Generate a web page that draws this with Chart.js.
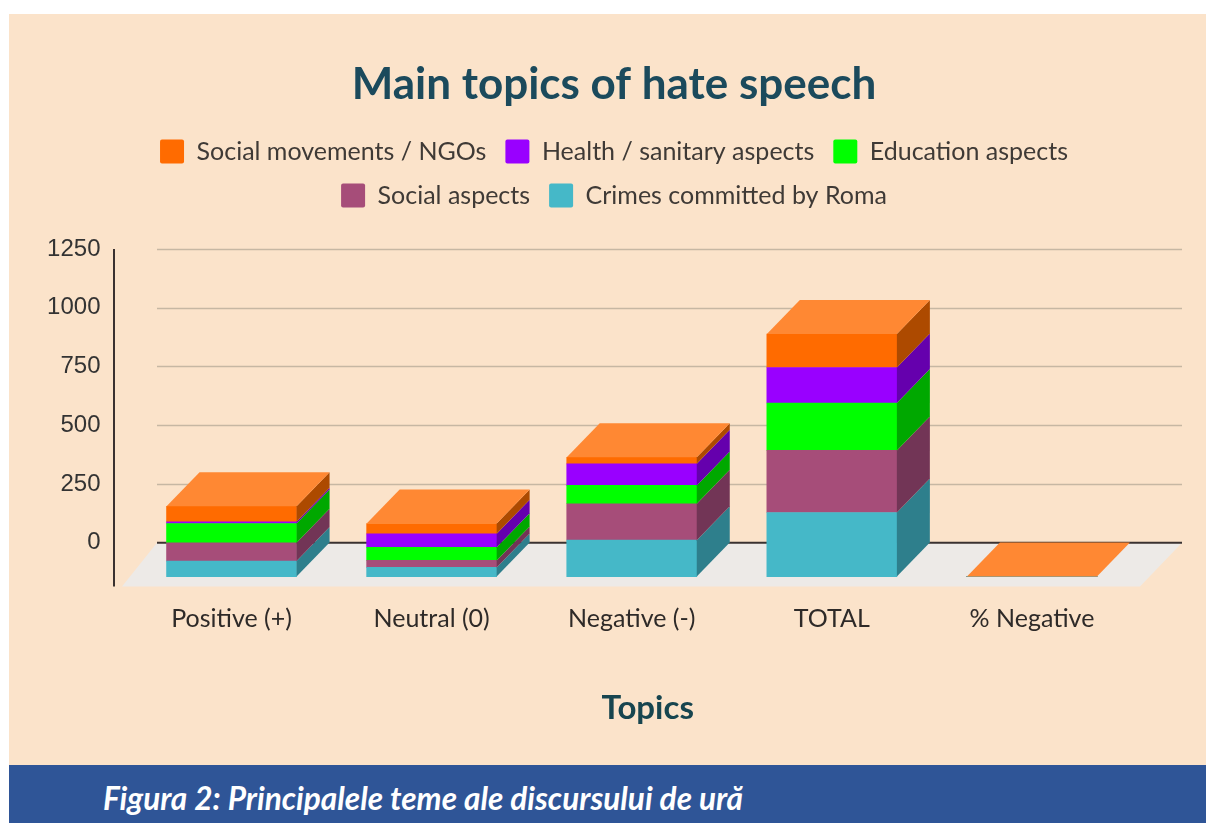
<!DOCTYPE html>
<html>
<head>
<meta charset="utf-8">
<script src="https://cdn.jsdelivr.net/npm/chart.js@4/dist/chart.umd.min.js"></script>
<style>
html,body{margin:0;padding:0;background:#fff;width:1206px;height:823px;overflow:hidden}
#panel{position:absolute;left:9px;top:14px;width:1197px;height:751px;background:#fbe3ca}
#band{position:absolute;left:9px;top:765px;width:1197px;height:58px;background:#2f5597;color:#fff;font:italic bold 31.6px Lato,sans-serif}
#band span{position:absolute;left:94px;top:14px;white-space:nowrap}
#wrap{position:absolute;left:0;top:0;width:1206px;height:823px}
</style>
</head>
<body>
<div id="panel"></div>
<div id="wrap"><canvas id="c" width="1206" height="823"></canvas></div>
<div id="band"><span>Figura 2: Principalele teme ale discursului de ură</span></div>
<script>
const categories = ['Positive (+)', 'Neutral (0)', 'Negative (-)', 'TOTAL', '% Negative'];
const crimes    = [66, 39, 155, 273, 0];
const social    = [78, 30, 155, 264, 0];
const education = [82, 56, 78, 202, 0];
const health    = [7, 57, 92, 151, 0];
const movements = [66, 44, 28, 142, 0];
const yTicks = [0, 250, 500, 750, 1000, 1250];

const PX_PER_UNIT = 0.2354, DX = 33, DY = 34;
const AREA_TOP_EXTRA = 31;
const yMax = 1250 + AREA_TOP_EXTRA / PX_PER_UNIT;
const yMin = -44 / PX_PER_UNIT;
const shift = DY / PX_PER_UNIT;

const sideColors = {
  'Crimes committed by Roma': '#2e7f8c',
  'Social aspects': '#723556',
  'Education aspects': '#00a800',
  'Health / sanitary aspects': '#6500ad',
  'Social movements / NGOs': '#ad4a00'
};
const topColor = '#ff8833';

const backdrop = {
  id: 'backdrop',
  afterLayout(chart) { chart.scales.y.left = 0; },
  beforeDatasetsDraw(chart) {
    const {ctx, scales: {y}} = chart;
    const y0 = y.getPixelForValue(0);
    ctx.save();
    ctx.fillStyle = '#edeae7';
    ctx.beginPath();
    ctx.moveTo(157, y0); ctx.lineTo(1182, y0); ctx.lineTo(1140, y.bottom); ctx.lineTo(122, y.bottom);
    ctx.closePath(); ctx.fill();
    ctx.strokeStyle = '#c6b7a3'; ctx.lineWidth = 1.5;
    yTicks.slice(1).forEach(v => {
      const py = Math.round(y.getPixelForValue(v)) + 0.5;
      ctx.beginPath(); ctx.moveTo(157, py); ctx.lineTo(1182, py); ctx.stroke();
    });
    ctx.strokeStyle = '#3a3230'; ctx.lineWidth = 2;
    ctx.beginPath(); ctx.moveTo(157, y0); ctx.lineTo(1182, y0); ctx.stroke();
    ctx.beginPath(); ctx.moveTo(114, y.getPixelForValue(1250)); ctx.lineTo(114, y.bottom); ctx.stroke();
    ctx.restore();
  }
};
const depth = {
  id: 'depth',
  afterDatasetsDraw(chart) {
    const {ctx} = chart;
    const n = chart.data.datasets.length;
    ctx.save();
    chart.data.datasets.forEach((ds, i) => {
      chart.getDatasetMeta(i).data.forEach(bar => {
        const r = bar.x + bar.width / 2, l = bar.x - bar.width / 2;
        ctx.fillStyle = sideColors[ds.label];
        ctx.beginPath();
        ctx.moveTo(r, bar.y); ctx.lineTo(r + DX, bar.y - DY);
        ctx.lineTo(r + DX, bar.base - DY); ctx.lineTo(r, bar.base);
        ctx.closePath(); ctx.fill();
        if (i === n - 1) {
          ctx.fillStyle = topColor;
          ctx.beginPath();
          ctx.moveTo(l, bar.y); ctx.lineTo(l + DX, bar.y - DY);
          ctx.lineTo(r + DX, bar.y - DY); ctx.lineTo(r, bar.y);
          ctx.closePath(); ctx.fill();
        }
      });
    });
    ctx.restore();
  }
};

const bar = (label, data, color) => ({label, data, backgroundColor: color, yAxisID: 'y2', barThickness: 130, borderWidth: 0, stack: 's'});

new Chart(document.getElementById('c'), {
  type: 'bar',
  data: {
    labels: categories,
    datasets: [
      bar('Crimes committed by Roma', crimes, '#45b8c8'),
      bar('Social aspects', social, '#a64d79'),
      bar('Education aspects', education, '#00ff00'),
      bar('Health / sanitary aspects', health, '#9900ff'),
      bar('Social movements / NGOs', movements, '#ff6b00')
    ]
  },
  plugins: [backdrop, depth],
  options: {
    responsive: false,
    animation: false,
    layout: {padding: {left: 96, right: 74, top: 0, bottom: 95.2}},
    plugins: {
      tooltip: {enabled: false},
      title: {
        display: true,
        text: 'Main topics of hate speech',
        color: '#1b4a5c',
        font: {family: 'Lato', size: 44, weight: 'bold'},
        padding: {top: 58, bottom: 9.2}
      },
      legend: {
        reverse: true,
        maxWidth: 1040,
        labels: {
          boxWidth: 24, boxHeight: 24, padding: 19,
          useBorderRadius: true, borderRadius: 2,
          color: '#3f3a36',
          font: {family: 'Lato', size: 25}
        }
      }
    },
    scales: {
      x: {
        stacked: true,
        grid: {display: false, drawTicks: false},
        border: {display: false},
        ticks: {color: '#2e2a28', font: {family: 'Lato', size: 25}, padding: 17, maxRotation: 0},
        title: {
          display: true, text: 'Topics', color: '#17454f',
          font: {family: 'Lato', size: 33, weight: 'bold'},
          padding: {top: 37.6, bottom: 0}
        },
        afterFit(s) {
          if (!s._shifted) {
            const draw = s.drawTitle;
            s.drawTitle = function () { const c = this.ctx; c.save(); c.translate(16, 0); draw.call(this); c.restore(); };
            s._shifted = true;
          }
        }
      },
      y: {
        min: yMin, max: yMax,
        grid: {display: false, drawTicks: false},
        border: {display: false},
        ticks: {color: '#333', font: {family: 'Liberation Sans', size: 24}, padding: 31, callback: v => String(v)},
        afterBuildTicks(s) { s.ticks = yTicks.map(v => ({value: v})); },
        afterFit(s) { s.width = 35.5; }
      },
      y2: {
        display: false, stacked: true,
        min: yMin + shift, max: yMax + shift
      }
    }
  }
});
</script>
</body>
</html>
